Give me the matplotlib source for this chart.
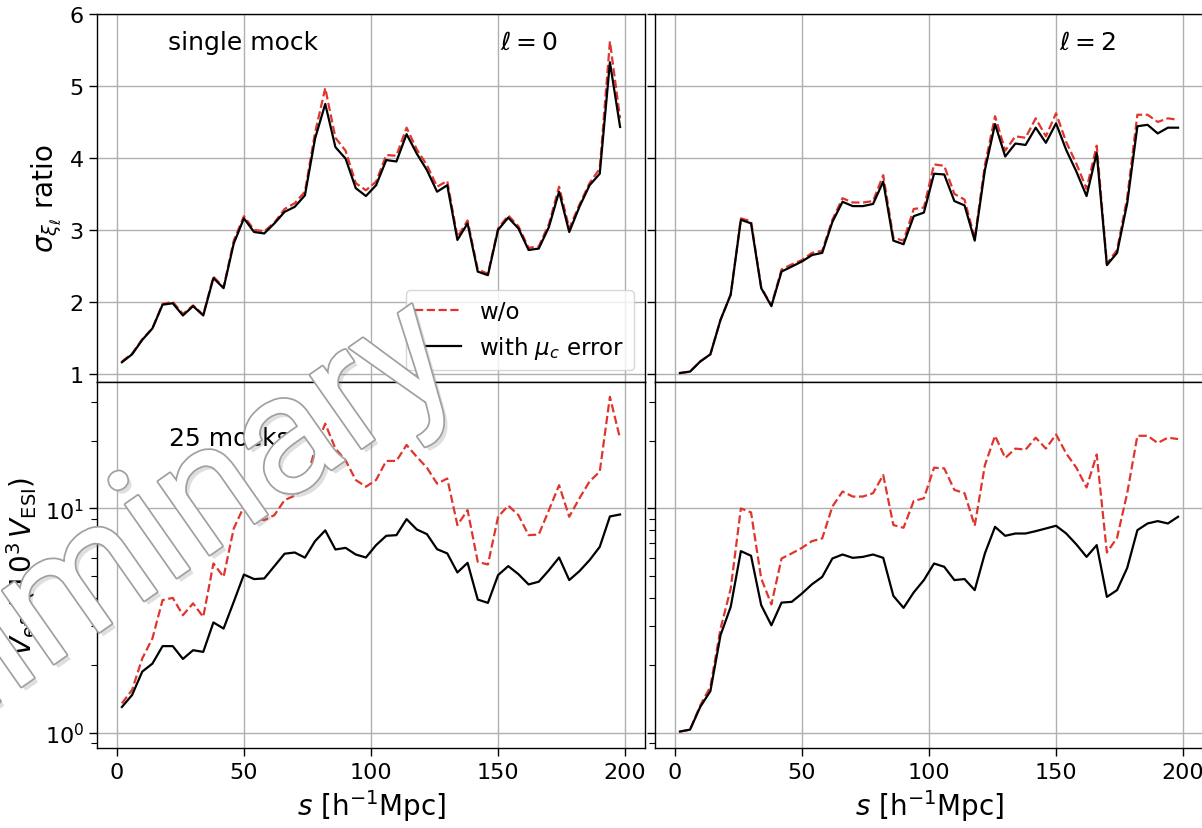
import numpy as np
import matplotlib.pyplot as plt
import matplotlib.patheffects as pe
from matplotlib.ticker import NullFormatter

# separation bins
s = np.arange(2, 200, 4)

# sigma ratio, single mock, l=0
ratio0_wo = [1.17, 1.28, 1.48, 1.63, 1.97, 2.00, 1.83, 1.95, 1.82, 2.35,
             2.20, 2.85, 3.19, 3.00, 2.98, 3.10, 3.29, 3.37, 3.53, 4.35,
             4.97, 4.28, 4.10, 3.65, 3.55, 3.67, 4.04, 4.03, 4.42, 4.12,
             3.90, 3.60, 3.68, 2.90, 3.13, 2.45, 2.39, 3.02, 3.20, 3.05,
             2.75, 2.77, 3.08, 3.60, 3.02, 3.35, 3.65, 3.85, 5.62, 4.55]
ratio0_mu = [1.16, 1.27, 1.47, 1.63, 1.96, 1.98, 1.81, 1.94, 1.81, 2.33,
             2.19, 2.81, 3.16, 2.97, 2.95, 3.09, 3.25, 3.32, 3.48, 4.27,
             4.75, 4.15, 3.99, 3.58, 3.47, 3.62, 3.97, 3.95, 4.33, 4.06,
             3.83, 3.53, 3.62, 2.86, 3.09, 2.42, 2.37, 3.00, 3.17, 3.02,
             2.72, 2.74, 3.04, 3.53, 2.97, 3.32, 3.62, 3.78, 5.33, 4.43]

# sigma ratio, single mock, l=2
ratio2_wo = [1.01, 1.03, 1.17, 1.27, 1.75, 2.10, 3.16, 3.12, 2.20, 1.95,
             2.45, 2.52, 2.58, 2.68, 2.71, 3.14, 3.44, 3.38, 3.38, 3.40,
             3.76, 2.89, 2.85, 3.29, 3.31, 3.91, 3.89, 3.50, 3.42, 2.88,
             3.90, 4.58, 4.10, 4.30, 4.28, 4.55, 4.30, 4.62, 4.22, 3.92,
             3.57, 4.17, 2.53, 2.72, 3.45, 4.60, 4.60, 4.50, 4.55, 4.53]
ratio2_mu = [1.01, 1.03, 1.17, 1.27, 1.75, 2.10, 3.14, 3.09, 2.19, 1.94,
             2.42, 2.49, 2.56, 2.65, 2.68, 3.11, 3.39, 3.33, 3.33, 3.36,
             3.67, 2.85, 2.80, 3.19, 3.24, 3.78, 3.77, 3.40, 3.34, 2.85,
             3.83, 4.47, 4.02, 4.20, 4.18, 4.42, 4.21, 4.48, 4.11, 3.81,
             3.47, 4.07, 2.51, 2.68, 3.37, 4.44, 4.46, 4.34, 4.42, 4.42]

# effective volume, 25 mocks, l=0
veff0_wo = [1.35, 1.55, 2.14, 2.63, 3.90, 3.99, 3.34, 3.77, 3.28, 5.68,
            4.95, 8.14, 10.2, 9.08, 8.87, 9.34, 10.9, 11.4, 12.5, 18.5,
            23.9, 18.5, 16.4, 13.4, 12.5, 13.4, 16.3, 16.3, 19.2, 17.0,
            15.2, 12.9, 13.6, 8.43, 9.83, 5.78, 5.62, 9.18, 10.3, 9.34,
            7.60, 7.65, 9.83, 12.7, 9.18, 11.1, 13.2, 14.6, 31.5, 20.5]
veff0_mu = [1.30, 1.47, 1.87, 2.03, 2.43, 2.43, 2.13, 2.33, 2.29, 3.10,
            2.91, 3.83, 5.07, 4.84, 4.87, 5.53, 6.28, 6.36, 6.03, 7.15,
            7.98, 6.56, 6.67, 6.23, 6.04, 6.86, 7.55, 7.60, 8.96, 8.06,
            7.68, 6.58, 6.30, 5.18, 5.72, 3.92, 3.79, 5.04, 5.53, 5.09,
            4.58, 4.71, 5.30, 6.04, 4.79, 5.25, 5.88, 6.74, 9.21, 9.40]

# effective volume, 25 mocks, l=2
veff2_wo = [1.01, 1.03, 1.32, 1.60, 2.91, 4.39, 10.0, 9.60, 4.87, 3.73,
            5.98, 6.30, 6.67, 7.15, 7.35, 10.2, 11.9, 11.3, 11.3, 11.7,
            14.1, 8.43, 8.20, 10.8, 11.1, 15.2, 15.1, 12.1, 11.7, 8.37,
            15.6, 21.1, 16.8, 18.5, 18.3, 20.7, 18.5, 21.4, 17.6, 15.2,
            12.4, 17.4, 6.36, 7.40, 11.7, 21.1, 21.1, 19.6, 20.7, 20.4]
veff2_mu = [1.01, 1.03, 1.30, 1.53, 2.72, 3.64, 6.45, 6.15, 3.70, 3.01,
            3.80, 3.83, 4.17, 4.59, 4.95, 5.98, 6.23, 6.02, 6.08, 6.23,
            6.02, 4.07, 3.60, 4.22, 4.79, 5.68, 5.49, 4.79, 4.84, 4.32,
            6.30, 8.28, 7.55, 7.73, 7.73, 7.92, 8.14, 8.37, 7.73, 6.91,
            6.08, 6.86, 4.03, 4.32, 5.43, 8.00, 8.57, 8.78, 8.57, 9.18]

red = '#e0352c'
fs_tick = 16
fs_lab = 20
fs_txt = 18

fig = plt.figure(figsize=(12.02, 8.29), dpi=100)
ax_tl = fig.add_axes([0.0807, 0.5384, 0.4559, 0.4435])
ax_tr = fig.add_axes([0.5449, 0.5384, 0.4559, 0.4435])
ax_bl = fig.add_axes([0.0807, 0.0961, 0.4559, 0.4423])
ax_br = fig.add_axes([0.5449, 0.0961, 0.4559, 0.4423])

ax_tl.plot(s, ratio0_wo, '--', color=red, lw=1.6, label='w/o')
ax_tl.plot(s, ratio0_mu, '-', color='k', lw=1.6, label=r'with $\mu_c$ error')
ax_tr.plot(s, ratio2_wo, '--', color=red, lw=1.6)
ax_tr.plot(s, ratio2_mu, '-', color='k', lw=1.6)
ax_bl.plot(s, veff0_wo, '--', color=red, lw=1.6)
ax_bl.plot(s, veff0_mu, '-', color='k', lw=1.6)
ax_br.plot(s, veff2_wo, '--', color=red, lw=1.6)
ax_br.plot(s, veff2_mu, '-', color='k', lw=1.6)

for ax in [ax_tl, ax_tr, ax_bl, ax_br]:
    ax.set_xlim(-7.8, 207.8)
    ax.set_xticks([0, 50, 100, 150, 200])
    ax.grid(True, color='#b0b0b0', lw=1.0)
    ax.tick_params(which='major', length=6, width=1, labelsize=fs_tick)
    ax.tick_params(which='minor', length=4, width=0.8)
    for sp in ax.spines.values():
        sp.set_linewidth(1.0)

for ax in [ax_tl, ax_tr]:
    ax.set_ylim(0.89, 6)
    ax.set_yticks([1, 2, 3, 4, 5, 6])
    ax.tick_params(labelbottom=False)

for ax in [ax_bl, ax_br]:
    ax.set_yscale('log')
    ax.set_ylim(0.85, 36.8)
    ax.yaxis.set_minor_formatter(NullFormatter())
    ax.set_xlabel(r'$s\ [\mathrm{h^{-1}Mpc}]$', fontsize=fs_lab)

for ax in [ax_tr, ax_br]:
    ax.tick_params(which='both', labelleft=False)

ax_tl.set_ylabel(r'$\sigma_{\xi_\ell}$ ratio', fontsize=fs_lab)
ax_bl.set_ylabel(r'$V_{\rm eff}/(10^{3}\,V_{\rm ESI})$', fontsize=fs_lab)

ax_tl.text(0.13, 0.924, 'single mock', transform=ax_tl.transAxes,
           fontsize=fs_txt, va='center', ha='left')
ax_tl.text(0.788, 0.924, r'$\ell=0$', transform=ax_tl.transAxes,
           fontsize=fs_txt, va='center', ha='center')
ax_tr.text(0.789, 0.924, r'$\ell=2$', transform=ax_tr.transAxes,
           fontsize=fs_txt, va='center', ha='center')
ax_bl.text(0.131, 0.847, '25 mocks', transform=ax_bl.transAxes,
           fontsize=fs_txt, va='center', ha='left')

ax_tl.legend(loc='lower right', fontsize=16.5)

# watermark
fig.text(465 / 1202, 1 - 377 / 829, 'Preliminary', rotation=35,
         rotation_mode='anchor', ha='right', va='baseline',
         family='Roboto', fontsize=122, color='white', zorder=10,
         path_effects=[pe.SimplePatchShadow(offset=(3, -3), shadow_rgbFace='gray', alpha=0.25),
                       pe.Stroke(linewidth=2.5, foreground='#a0a0a0'),
                       pe.Normal()])

fig.savefig('out.png', dpi=100)
